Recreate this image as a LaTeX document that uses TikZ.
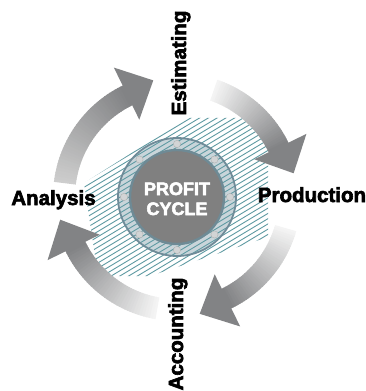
\documentclass[tikz,border=0pt]{standalone}
\usepackage{fontspec}
\newfontfamily\heavy{Liberation Sans}[BoldFeatures={FakeBold=3}]
\definecolor{hatchc}{HTML}{5E9AA2}
\definecolor{ringfill}{HTML}{C9D5DA}
\definecolor{ringedge}{HTML}{6F8B98}
\definecolor{diskfill}{HTML}{808080}
\definecolor{diskedge}{HTML}{6E8A95}
\definecolor{dotfill}{HTML}{D2D4D5}
\definecolor{arrowdark}{HTML}{828385}
\definecolor{tailA}{HTML}{CDCDCD}
\definecolor{tailB}{HTML}{F4F4F4}
\tikzset{
  hatchline/.style={draw=hatchc, line width=0.9pt},
  label/.style={font=\heavy\bfseries\fontsize{20.5}{24}\selectfont, text=black, inner sep=0pt},
  coretext/.style={font=\heavy\bfseries\fontsize{18}{20}\selectfont, text=white, inner sep=0pt},
}
\newcommand\cyclearrow[4]{%
  \foreach \i in {0,...,39}{%
    \pgfmathsetmacro\angA{#1+(#2-#1)*\i/40}%
    \pgfmathsetmacro\angB{#1+(#2-#1)*(\i+1)/40-0.4}%
    \pgfmathtruncatemacro\pc{100*\i/39}%
    \fill[arrowdark!\pc!#4] (\angA:102) arc[start angle=\angA, end angle=\angB, radius=102]
      -- (\angB:124) arc[start angle=\angB, end angle=\angA, radius=124] -- cycle;
  }%
  \fill[arrowdark] (#2:144) -- (#3:119) -- (#2:86) -- cycle;
}
\newcommand\hatchlines{%
  \foreach \k in {-260,-254.75,...,260}{%
    \draw[hatchline] (-140,{\k-84}) -- (140,{\k+84});
  }%
}
\begin{document}
\begin{tikzpicture}[x=1pt,y=1pt]
\useasboundingbox[fill=white] (-177,-194) rectangle (189,197);
% hatched field
\begin{scope}
  \clip (-93,14) -- (10,79) -- (91,79) -- (91,-40) -- (-27,-79) -- (-79,-79) -- cycle;
  \hatchlines
\end{scope}
% ring
\fill[ringfill] (0,0) circle (59);
\begin{scope}
  \clip (0,0) circle (59);
  \hatchlines
\end{scope}
\draw[ringedge, line width=1.8pt] (0,0) circle (59);
\foreach \a in {0,45,...,315}{
  \draw[fill=dotfill, draw=gray!60, line width=0.4pt] (\a:53) circle (3.6);
}
\node[circle, minimum size=94pt, inner sep=0pt, fill=diskfill, draw=diskedge, line width=2.4pt] (core) at (0,0) {};
\node[coretext, anchor=base] (profit) at (0,2) {PROFIT};
\node[coretext, anchor=base] (cycle) at (0,-18) {CYCLE};
% arrows
\cyclearrow{173}{116}{101.5}{tailA}
\cyclearrow{71}{26}{11.5}{tailB}
\cyclearrow{-16}{-64}{-79}{tailB}
\cyclearrow{-100}{-154}{-169}{tailB}
% labels
\node[label, anchor=base] (analysis) at (-123.5,-8) {Analysis};
\node[label, anchor=base] (production) at (135,-5) {Production};
\node[label, anchor=base, rotate=90] (estimating) at (9,134) {Estimating};
\node[label, anchor=base, rotate=90] (accounting) at (6,-137) {Accounting};
\end{tikzpicture}
\end{document}
